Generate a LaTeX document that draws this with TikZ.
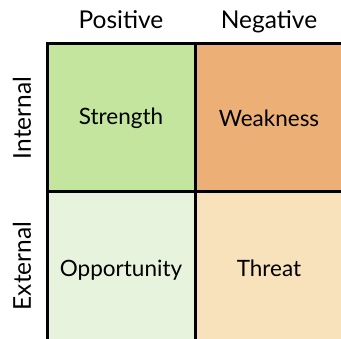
\documentclass[tikz,border=0pt]{standalone}
\usepackage{fontspec}
\setmainfont{Lato}
\definecolor{cS}{RGB}{196,229,158}
\definecolor{cW}{RGB}{236,175,118}
\definecolor{cO}{RGB}{232,243,221}
\definecolor{cT}{RGB}{248,226,187}
\begin{document}
\begin{tikzpicture}[x=1pt,y=1pt,
  cell/.style={draw=black,line width=3pt,minimum width=148pt,minimum height=148pt,inner sep=0pt,font=\fontsize{22.5}{26}\selectfont},
  lowcell/.style={cell,minimum height=156pt},
  head/.style={font=\fontsize{24.5}{28}\selectfont,inner sep=0pt}]
\useasboundingbox (0,0) rectangle (341,339);
\clip (0,0) rectangle (341,339);
\node[lowcell,fill=cO] (O) at (121,69) {\raisebox{4pt}{Opportunity}};
\node[lowcell,fill=cT] (T) at (269,69) {\raisebox{4pt}{Threat}};
\node[cell,fill=cS] (S) at (121,221) {Strength};
\node[cell,fill=cW] (W) at (269,221) {Weakness};
\node[head,anchor=base] (P) at (121,310) {Positive};
\node[head,anchor=base] (N) at (269,310) {Negative};
\node[head,rotate=90,anchor=base] (I) at (31,221) {Internal};
\node[head,rotate=90,anchor=base] (E) at (31,73) {External};
\end{tikzpicture}
\end{document}
